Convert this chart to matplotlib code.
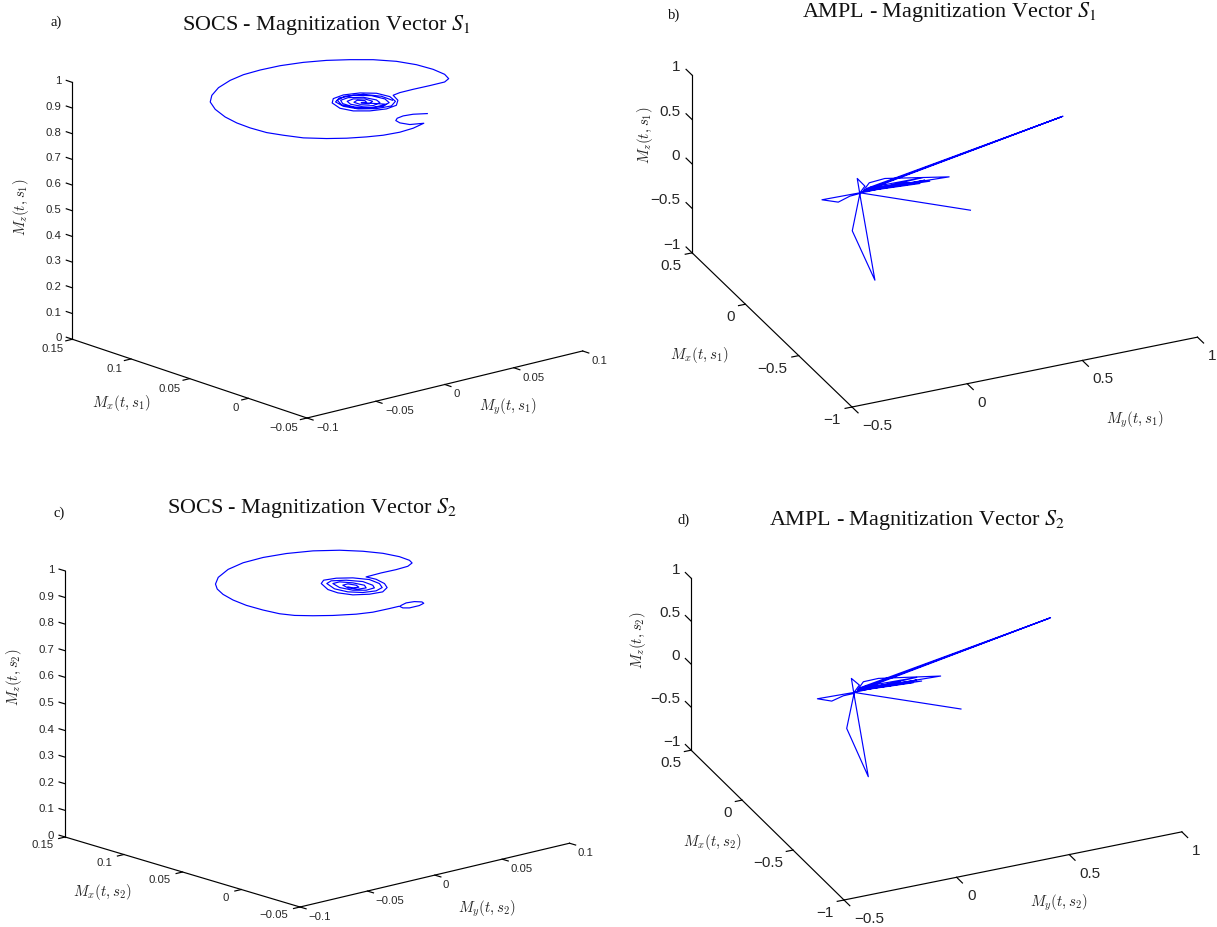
import math

import matplotlib
matplotlib.use("Agg")
import matplotlib.pyplot as plt
from mpl_toolkits.mplot3d import proj3d

W, H = 1217, 927

# ==================================================
# Curve data
# ==================================================
socs_s1_mx = [.0035, .0076, .0087, .0074, .0045, -.0004, -.0064, -.0095, -.0130, -.0141, -.0126, -.0091,
              -.0039, .0028, .0121, .0231, .0330, .0458, .0579, .0709, .0857, .0983, .1075, .1164,
              .1230, .1266, .1275, .1267, .1233, .1179, .1106, .1022, .0915, .0794, .0666, .0551,
              .0473, .0438, .0438, .0443, .0442, .0427, .0336, .0268, .0250, .0280, .0339, .0426,
              .0532, .0592, .0610, .0580, .0516, .0419, .0330, .0276, .0290, .0351, .0443, .0535,
              .0580, .0569, .0499, .0402, .0333, .0301, .0330, .0398, .0485, .0541, .0553, .0504,
              .0418, .0366, .0346, .0378, .0447, .0503, .0516, .0474, .0412, .0385, .0413, .0464,
              .0482, .0449, .0419, .0433, .0318, .0317, .0371, .0469, .0553, .0584, .0548, .0454,
              .0356]
socs_s1_my = [.0328, .0260, .0197, .0143, .0108, .0096, .0117, .0192, .0085, -.0021, -.0129, -.0220,
              -.0320, -.0409, -.0498, -.0549, -.0586, -.0597, -.0591, -.0565, -.0511, -.0440, -.0350, -.0226,
              -.0085, .0042, .0171, .0309, .0448, .0571, .0678, .0776, .0853, .0895, .0907, .0893,
              .0856, .0797, .0689, .0573, .0475, .0414, .0371, .0302, .0215, .0120, .0050, .0027,
              .0061, .0120, .0208, .0303, .0369, .0383, .0348, .0273, .0177, .0096, .0066, .0088,
              .0153, .0246, .0318, .0333, .0305, .0234, .0150, .0100, .0097, .0130, .0195, .0263,
              .0285, .0266, .0200, .0143, .0122, .0145, .0200, .0249, .0252, .0204, .0161, .0161,
              .0200, .0228, .0214, .0187, .0273, .0175, .0101, .0076, .0116, .0198, .0300, .0352,
              .0348]
socs_s1_mz = 0.93

socs_s2_mx = [-.0020, .0002, -.0008, -.0042, -.0070, -.0090, -.0090, -.0065, -.0025, -.0025, -.0020, .0011,
              .0078, .0149, .0223, .0306, .0428, .0565, .0700, .0828, .0935, .1021, .1117, .1207,
              .1256, .1265, .1240, .1182, .1092, .0988, .0880, .0764, .0668, .0616, .0579, .0570,
              .0574, .0567, .0492, .0392, .0318, .0266, .0279, .0331, .0420, .0510, .0631, .0675,
              .0659, .0602, .0512, .0411, .0337, .0307, .0331, .0398, .0496, .0610, .0636, .0590,
              .0505, .0409, .0361, .0355, .0405, .0498, .0587, .0588, .0522, .0441, .0392, .0402,
              .0461, .0523, .0525, .0472, .0430, .0443, .0477]
socs_s2_my = [.0166, .0225, .0277, .0304, .0293, .0242, .0169, .0142, .0151, .0078, -.0042, -.0138,
              -.0252, -.0339, -.0410, -.0449, -.0466, -.0470, -.0451, -.0414, -.0364, -.0302, -.0198, -.0046,
              .0108, .0264, .0415, .0562, .0681, .0763, .0817, .0839, .0830, .0804, .0740, .0645,
              .0538, .0420, .0429, .0404, .0359, .0281, .0194, .0116, .0082, .0087, .0143, .0199,
              .0279, .0352, .0397, .0383, .0339, .0268, .0190, .0137, .0124, .0166, .0221, .0292,
              .0342, .0332, .0302, .0236, .0181, .0163, .0191, .0242, .0283, .0298, .0268, .0215,
              .0193, .0209, .0248, .0264, .0247, .0213, .0207]
socs_s2_mz = 0.93

ampl_s1_mx = [-.3241, -.0043, .0012, -.0442, -.0149, -.0097, -.2977, -.7317, -.0511, .1154, .0412, -.0043,
              .2815, .0063, .0609, .0703, -.0211, .0090, .2789, .0197, -.0245, .0020, .0159, .0223,
              -.0270, -.0018, .0082, -.0020, -.0105, -.0083, .0035, -.0081, .0088, .0005, -.0072, -.0043]
ampl_s1_my = [.3269, -.0050, -.1672, -.1174, -.0532, -.0075, -.1739, -.2764, -.0237, .0388, .0377, -.0050,
              1.0088, .0144, .0657, .1379, .3746, .0229, 1.0003, .0350, .2892, .0240, .2790, .0507,
              .2447, .0323, .2031, .0612, .1656, .2750, .0492, .2245, .0733, .1273, .0298, -.0050]
ampl_s1_mz = 0.0

ampl_s2_mx = [-.3240, -.0072, .0014, -.0419, -.0171, -.0155, -.2937, -.7309, -.0581, .1134, .0448, -.0072,
              .2844, .0066, .0658, .0684, -.0162, .0088, .2810, .0215, -.0260, .0022, .0128, .0243,
              -.0260, -.0023, .0074, -.0024, -.0131, -.0094, .0021, -.0093, .0076, -.0019, -.0062, -.0072]
ampl_s2_my = [.3250, -.0063, -.1650, -.1210, -.0581, -.0100, -.1685, -.2703, -.0264, .0365, .0409, -.0063,
              .9981, .0148, .0682, .1359, .3741, .0246, .9907, .0333, .2854, .0246, .2808, .0494,
              .2484, .0344, .2044, .0640, .1685, .2707, .0468, .2264, .0714, .1292, .0282, -.0063]
ampl_s2_mz = 0.0

# tick values and labels
socs_xticks = [-0.05, 0, 0.05, 0.1, 0.15]
socs_xlabels = ["\u22120.05", "0", "0.05", "0.1", "0.15"]
socs_yticks = [-0.1, -0.05, 0, 0.05, 0.1]
socs_ylabels = ["\u22120.1", "\u22120.05", "0", "0.05", "0.1"]
socs_zticks = [0, 0.1, 0.2, 0.3, 0.4, 0.5, 0.6, 0.7, 0.8, 0.9, 1]
socs_zlabels = ["0", "0.1", "0.2", "0.3", "0.4", "0.5", "0.6", "0.7", "0.8", "0.9", "1"]
ampl_xticks = [-1, -0.5, 0, 0.5]
ampl_xlabels = ["\u22121", "\u22120.5", "0", "0.5"]
ampl_yticks = [-0.5, 0, 0.5, 1]
ampl_ylabels = ["\u22120.5", "0", "0.5", "1"]
ampl_zticks = [-1, -0.5, 0, 0.5, 1]
ampl_zlabels = ["\u22121", "\u22120.5", "0", "0.5", "1"]

socs_style = dict(xticks=socs_xticks, xlabels=socs_xlabels, yticks=socs_yticks, ylabels=socs_ylabels,
                  zticks=socs_zticks, zlabels=socs_zlabels, tick_size=8.2, dx_frac=0.026, dy_frac=0.024)
ampl_style = dict(xticks=ampl_xticks, xlabels=ampl_xlabels, yticks=ampl_yticks, ylabels=ampl_ylabels,
                  zticks=ampl_zticks, zlabels=ampl_zlabels, tick_size=11, dx_frac=0.038, dy_frac=0.02)

# pixel layout: vertex = where x and y axes meet, ztop = upper end of z axis, offsets in pixels
panels = [
    dict(style=socs_style, mx=socs_s1_mx, my=socs_s1_my, mz=socs_s1_mz, sub="1", view=(-16.6, 40.4),
         box=(362, 362, 268), vertex=(307, 418), ztop=(72, 82),
         xoff=(-9, 10), yoff=(9, 10), zoff=(-11, -1),
         title=("SOCS - Magnitization Vector", 326, 25), letter=("a)", 56, 22),
         xl=(121, 403), yl=(508, 407), zl=(21, 207)),
    dict(style=ampl_style, mx=ampl_s1_mx, my=ampl_s1_my, mz=ampl_s1_mz, sub="1", view=(-26.2, 24.6),
         box=(384, 380, 198), vertex=(852, 407), ztop=(692, 75),
         xoff=(-11, 13), yoff=(10, 19), zoff=(-12, -8),
         title=("AMPL - Magnitization Vector", 949, 12), letter=("b)", 674, 15),
         xl=(699, 355), yl=(1135, 420), zl=(645, 135)),
    dict(style=socs_style, mx=socs_s2_mx, my=socs_s2_my, mz=socs_s2_mz, sub="2", view=(-15.4, 41.7),
         box=(353, 361, 276), vertex=(300, 907), ztop=(65, 571),
         xoff=(-12, 8), yoff=(8, 10), zoff=(-11, -1),
         title=("SOCS - Magnitization Vector", 312, 508), letter=("c)", 59, 513),
         xl=(102, 892), yl=(487, 909), zl=(14, 677)),
    dict(style=ampl_style, mx=ampl_s2_mx, my=ampl_s2_my, mz=ampl_s2_mz, sub="2", view=(-26.4, 24.4),
         box=(370, 371, 192), vertex=(844, 900), ztop=(691, 578),
         xoff=(-10, 13), yoff=(10.5, 19), zoff=(-11, -8),
         title=("AMPL - Magnitization Vector", 917, 520), letter=("d)", 684, 520),
         xl=(712, 842), yl=(1059, 903), zl=(638, 640)),
]

TICK_FONT = "Liberation Sans"
TITLE_FONT = "Liberation Serif"
plt.rcParams["mathtext.fontset"] = "stix"


def to_px(ax, x, y, z):
    ax.apply_aspect()
    tx, ty, _ = proj3d.proj_transform(x, y, z, ax.get_proj())
    return ax.transData.transform((tx, ty))


def set_square(ax, left, bottom, size):
    ax.set_position([left / W, bottom / H, size / W, size / H])


def ftext(u, v, s, **kw):
    # u, v are figure pixels measured from the bottom left
    fig.text(u / W, v / H, s, **kw)


def draw_panel(p):
    st = p["style"]
    xt, yt, zt = st["xticks"], st["yticks"], st["zticks"]
    x0, x1, y0, y1, z0, z1 = xt[0], xt[-1], yt[0], yt[-1], zt[0], zt[-1]

    ax = fig.add_axes([0, 0, 0.3, 0.3], projection="3d", proj_type="ortho")
    ax.set_axis_off()
    ax.patch.set_facecolor("none")
    ax.view_init(elev=p["view"][0], azim=p["view"][1])
    ax.set_xlim(x0, x1)
    ax.set_ylim(y0, y1)
    ax.set_zlim(z0, z1)
    ax.set_box_aspect(p["box"])

    # fit the axes box so that the 3D frame lands on the right pixels
    size = 600.0
    set_square(ax, 0, 0, size)
    low = to_px(ax, x1, y0, z0)
    top = to_px(ax, x1, y0, z1)
    want = p["box"][2] * math.cos(math.radians(p["view"][0]))
    size = size * want / abs(top[1] - low[1])
    set_square(ax, 0, 0, size)
    v = to_px(ax, x0, y0, z0)
    set_square(ax, p["vertex"][0] - v[0], (H - p["vertex"][1]) - v[1], size)

    # curve
    ax.plot(p["mx"], p["my"], zs=p["mz"], color="#0000ff", lw=0.85, clip_on=False)

    # axis frame
    frame = dict(color="black", lw=0.85, clip_on=False)
    ax.plot([x0, x1], [y0, y0], zs=z0, **frame)
    ax.plot([x0, x0], [y0, y1], zs=z0, **frame)
    ax.plot([x1, x1], [y0, y0], [z0, z1], **frame)

    # ticks, pointing along the neighbouring axis
    dx, dy = (x1 - x0) * st["dx_frac"], (y1 - y0) * st["dy_frac"]
    lab = dict(family=TICK_FONT, size=st["tick_size"], color="#262626", va="center")
    for t, s in zip(xt, st["xlabels"]):
        ax.plot([t, t], [y0, y0 - dy], zs=z0, **frame)
        u, w = to_px(ax, t, y0, z0)
        ftext(u + p["xoff"][0], w - p["xoff"][1], s, ha="right", **lab)
    for t, s in zip(yt, st["ylabels"]):
        ax.plot([x0, x0 - dx], [t, t], zs=z0, **frame)
        u, w = to_px(ax, x0, t, z0)
        ftext(u + p["yoff"][0], w - p["yoff"][1], s, ha="left", **lab)
    for t, s in zip(zt, st["zlabels"]):
        ax.plot([x1, x1 + dx], [y0, y0], zs=t, **frame)
        u, w = to_px(ax, x1, y0, t)
        ftext(u + p["zoff"][0], w - p["zoff"][1], s, ha="right", **lab)

    # axis names
    sub = p["sub"]
    name = dict(size=10.7, color="#262626", ha="center", va="center", math_fontfamily="cm")
    ftext(p["xl"][0], H - p["xl"][1], rf"$M_x(t,s_{sub})$", **name)
    ftext(p["yl"][0], H - p["yl"][1], rf"$M_y(t,s_{sub})$", **name)
    ftext(p["zl"][0], H - p["zl"][1], rf"$M_z(t,s_{sub})$", rotation=90, **name)

    # title and panel letter
    text, tx, ty = p["title"]
    ftext(tx, H - ty, rf"{text} $S_{sub}$", family=TITLE_FONT, size=15.9, color="#111111",
          ha="center", va="center")
    text, tx, ty = p["letter"]
    ftext(tx, H - ty, text, family=TITLE_FONT, size=10.5, color="#111111", ha="center", va="center")


fig = plt.figure(figsize=(W / 100, H / 100), dpi=100, facecolor="white")
for panel in panels:
    draw_panel(panel)
fig.savefig("out.png", dpi=100)
